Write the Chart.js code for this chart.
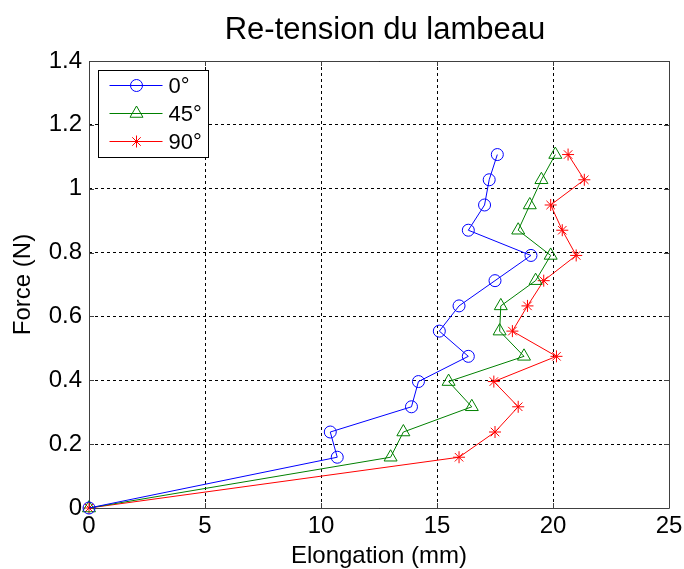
<!DOCTYPE html>
<html>
<head>
<meta charset="utf-8">
<script src="https://cdn.jsdelivr.net/npm/chart.js@4/dist/chart.umd.min.js"></script>
<style>
html,body{margin:0;padding:0;background:#fff;}
#wrap{width:684px;height:569px;}
</style>
</head>
<body>
<div id="wrap"><canvas id="c" width="684" height="569"></canvas></div>
<script>
// ---- data ----
const titleText = "Re-tension du lambeau";
const xLabel = "Elongation (mm)";
const yLabel = "Force (N)";
const seriesNames = ["0°", "45°", "90°"];
const force = [0, 0.159, 0.238, 0.317, 0.396, 0.475, 0.554, 0.633, 0.712, 0.791, 0.870, 0.949, 1.028, 1.107];
const elong0  = [0, 10.7, 10.4, 13.9, 14.2, 16.35, 15.1, 15.95, 17.5, 19.05, 16.35, 17.05, 17.25, 17.6];
const elong45 = [0, 13.0, 13.55, 16.5, 15.5, 18.75, 17.7, 17.75, 19.25, 19.9, 18.5, 19.0, 19.5, 20.1];
const elong90 = [0, 15.95, 17.5, 18.5, 17.45, 20.15, 18.25, 18.9, 19.6, 21.0, 20.4, 19.9, 21.35, 20.65];
const xTickValues = [0, 5, 10, 15, 20, 25];
const xTickLabels = ["0", "5", "10", "15", "20", "25"];
const yTickValues = [0, 0.2, 0.4, 0.6, 0.8, 1.0, 1.2, 1.4];
const yTickLabels = ["0", "0.2", "0.4", "0.6", "0.8", "1", "1.2", "1.4"];

const FONT = "'Liberation Sans', Arial, sans-serif";
const toPts = (xs) => xs.map((x, i) => ({x: x, y: force[i]}));

const styles = [
  {color: '#0000ff', pointStyle: 'circle', radius: 6},
  {color: '#008000', pointStyle: 'triangle', radius: 7.5},
  {color: '#ff0000', pointStyle: 'star', radius: 6}
];
const series = [elong0, elong45, elong90];

const datasets = series.map((xs, i) => ({
  label: seriesNames[i],
  data: toPts(xs),
  showLine: true,
  borderColor: styles[i].color,
  borderWidth: 1,
  backgroundColor: 'rgba(0,0,0,0)',
  pointStyle: styles[i].pointStyle,
  pointRadius: styles[i].radius,
  pointHoverRadius: styles[i].radius,
  pointBorderColor: styles[i].color,
  pointBackgroundColor: 'rgba(0,0,0,0)',
  pointBorderWidth: 1,
  tension: 0,
  clip: false
}));

const decor = {
  id: 'decor',
  beforeDatasetsDraw(chart) {
    const ctx = chart.ctx, a = chart.chartArea;
    const xs = chart.scales.x, ys = chart.scales.y;
    ctx.save();
    ctx.strokeStyle = '#404040';
    ctx.lineWidth = 1;
    ctx.setLineDash([]);
    ctx.beginPath();
    ctx.rect(Math.round(a.left) + 0.5, Math.round(a.top) + 0.5, Math.round(a.right - a.left), Math.round(a.bottom - a.top));
    ctx.stroke();
    const tl = 5;
    ctx.beginPath();
    xTickValues.forEach(v => {
      const px = Math.round(xs.getPixelForValue(v)) + 0.5;
      ctx.moveTo(px, a.bottom); ctx.lineTo(px, a.bottom - tl);
      ctx.moveTo(px, a.top); ctx.lineTo(px, a.top + tl);
    });
    yTickValues.forEach(v => {
      const py = Math.round(ys.getPixelForValue(v)) + 0.5;
      ctx.moveTo(a.left, py); ctx.lineTo(a.left + tl, py);
      ctx.moveTo(a.right, py); ctx.lineTo(a.right - tl, py);
    });
    ctx.stroke();
    ctx.restore();
  },
  afterDraw(chart) {
    const ctx = chart.ctx, a = chart.chartArea;
    ctx.save();
    // title centred over axes
    ctx.fillStyle = '#000';
    ctx.font = '31px ' + FONT;
    ctx.textAlign = 'center';
    ctx.textBaseline = 'alphabetic';
    ctx.fillText(titleText, (a.left + a.right) / 2 + 6, 39);
    // legend
    const lx = Math.round(a.left) + 9.5, ly = Math.round(a.top) + 9.5, lw = 110, lh = 87;
    ctx.fillStyle = '#fff';
    ctx.fillRect(lx, ly, lw, lh);
    ctx.strokeStyle = '#000';
    ctx.lineWidth = 1;
    ctx.strokeRect(lx, ly, lw, lh);
    chart.data.datasets.forEach((ds, i) => {
      const y = Math.round(ly + 14 + i * 28) + 0.5;
      ctx.strokeStyle = ds.borderColor;
      ctx.lineWidth = 1;
      ctx.beginPath();
      ctx.moveTo(lx + 11, y); ctx.lineTo(lx + 64, y);
      ctx.stroke();
      if (Chart.helpers && Chart.helpers.drawPoint) {
        ctx.fillStyle = 'rgba(0,0,0,0)';
        Chart.helpers.drawPoint(ctx, {pointStyle: ds.pointStyle, radius: ds.pointRadius, rotation: 0, borderWidth: 1}, lx + 38, y);
      }
      ctx.fillStyle = '#000';
      ctx.font = '22px ' + FONT;
      ctx.textAlign = 'left';
      ctx.textBaseline = 'middle';
      ctx.fillText(ds.label, lx + 70, y + 1);
    });
    ctx.restore();
  }
};

new Chart(document.getElementById('c'), {
  type: 'scatter',
  data: {datasets: datasets},
  plugins: [decor],
  options: {
    responsive: false,
    animation: false,
    devicePixelRatio: 1,
    layout: {padding: {left: 0, right: 15, top: 61, bottom: 0}},
    plugins: {legend: {display: false}, title: {display: false}, tooltip: {enabled: false}},
    scales: {
      x: {
        type: 'linear', min: 0, max: 25,
        afterBuildTicks: (s) => { s.ticks = xTickValues.map(v => ({value: v})); },
        afterFit: (s) => { s.height = 61; s.paddingLeft = 0; s.paddingRight = 0; },
        ticks: {
          color: '#000', padding: 4, maxRotation: 0, autoSkip: false,
          font: {family: FONT, size: 24},
          callback: (v, i) => xTickLabels[i]
        },
        grid: {color: '#000', lineWidth: 1, drawTicks: false},
        border: {display: false, dash: [3, 3]},
        title: {display: true, text: xLabel, color: '#000', font: {family: FONT, size: 24, lineHeight: 1}, padding: {top: 0, bottom: 1}}
      },
      y: {
        type: 'linear', min: 0, max: 1.4,
        afterBuildTicks: (s) => { s.ticks = yTickValues.map(v => ({value: v})); },
        afterFit: (s) => { s.width = 89; s.paddingTop = 0; s.paddingBottom = 0; },
        ticks: {
          color: '#000', padding: 7, autoSkip: false,
          font: {family: FONT, size: 24},
          callback: (v, i) => yTickLabels[i]
        },
        grid: {color: '#000', lineWidth: 1, drawTicks: false},
        border: {display: false, dash: [3, 3]},
        title: {display: true, text: yLabel, color: '#000', font: {family: FONT, size: 24, lineHeight: 1.2}, padding: {top: 9, bottom: 0}}
      }
    }
  }
});
</script>
</body>
</html>
